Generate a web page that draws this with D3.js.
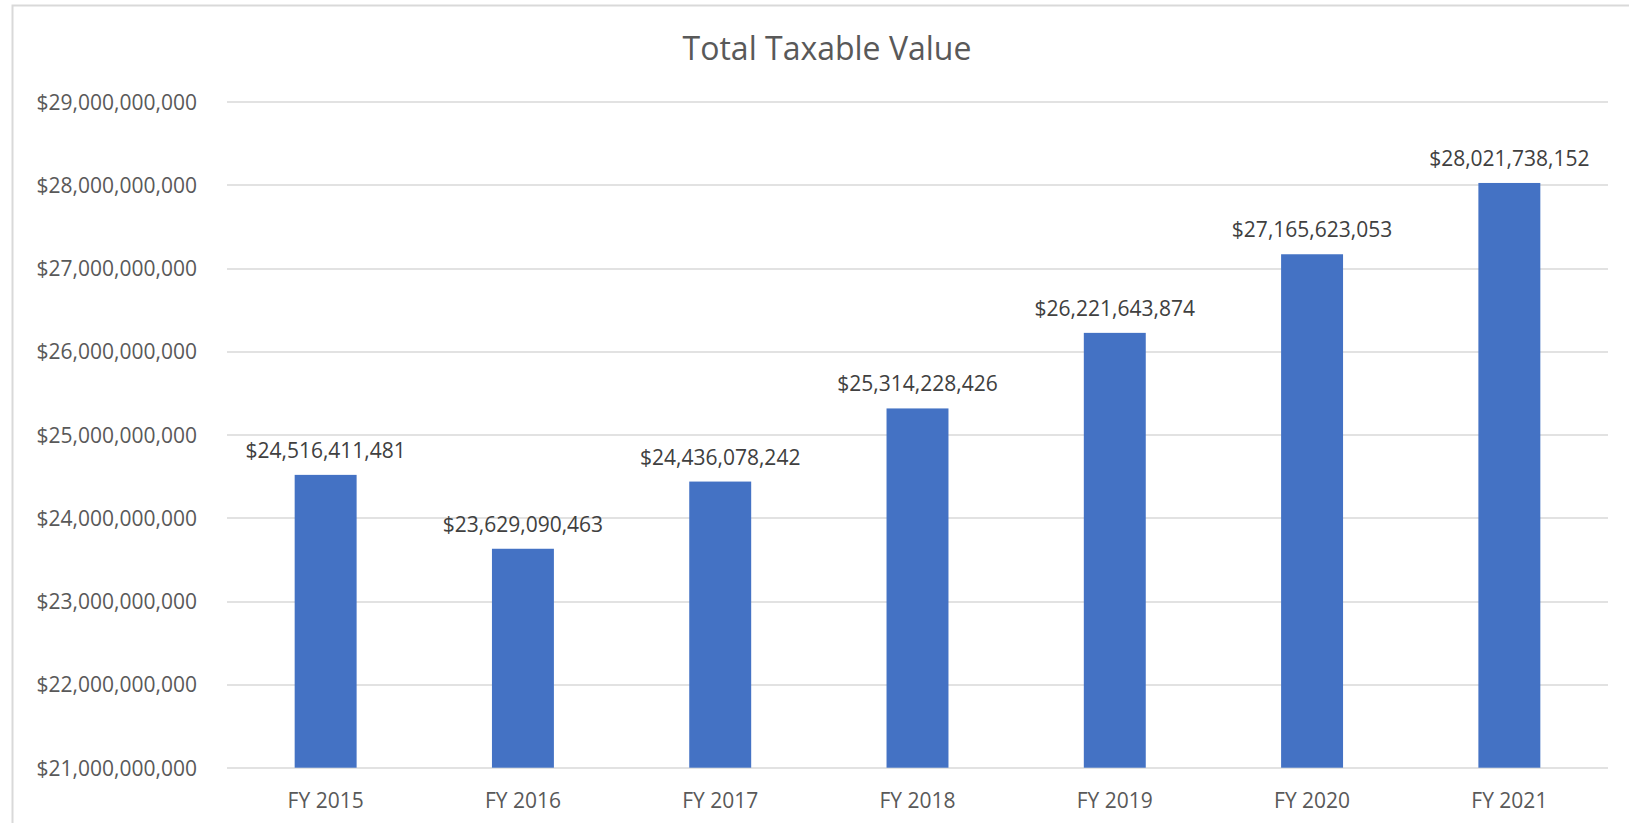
<!DOCTYPE html>
<html>
<head>
<meta charset="utf-8">
<script src="https://cdn.jsdelivr.net/npm/d3@7"></script>
<style>
  body { margin: 0; background: #fff; }
  svg text { font-family: "Open Sans", sans-serif; }
</style>
</head>
<body>
<div id="chart"></div>
<script>
var years = ["FY 2015", "FY 2016", "FY 2017", "FY 2018", "FY 2019", "FY 2020", "FY 2021"];
var values = [24516411481, 23629090463, 24436078242, 25314228426, 26221643874, 27165623053, 28021738152];
var yTicks = [21e9, 22e9, 23e9, 24e9, 25e9, 26e9, 27e9, 28e9, 29e9];

var W = 1629, H = 823;
var margin = {top: 101.5, right: 21, bottom: 55.3, left: 227};
var width = W - margin.left - margin.right,
    height = H - margin.top - margin.bottom;

var svg = d3.select("#chart").append("svg")
  .attr("width", W)
  .attr("height", H);

// outer chart border
svg.append("rect")
  .attr("x", 12.5).attr("y", 5.5)
  .attr("width", W + 20).attr("height", H + 20)
  .attr("fill", "none")
  .attr("stroke", "#d9d9d9")
  .attr("stroke-width", 2);

svg.append("text")
  .attr("x", 827).attr("y", 60)
  .attr("text-anchor", "middle")
  .style("font-size", "32px")
  .style("fill", "#595959")
  .text("Total Taxable Value");

var g = svg.append("g")
  .attr("transform", "translate(" + margin.left + "," + margin.top + ")");

var x = d3.scaleBand()
  .domain(years)
  .range([0, width])
  .paddingInner(0.686)
  .paddingOuter(0.343);

var y = d3.scaleLinear()
  .domain([21e9, 29e9])
  .range([height, 0]);

var fmt = function(v) { return "$" + d3.format(",")(v); };

// gridlines
g.selectAll(".grid")
  .data(yTicks)
  .enter().append("line")
  .attr("x1", 0).attr("x2", width)
  .attr("y1", function(d) { return Math.round(y(d)) + 0.5; })
  .attr("y2", function(d) { return Math.round(y(d)) + 0.5; })
  .attr("stroke", "#d9d9d9")
  .attr("stroke-width", 1.5);

var yAxis = g.append("g")
  .call(d3.axisLeft(y).tickValues(yTicks).tickFormat(fmt).tickSize(0).tickPadding(30));
yAxis.select(".domain").remove();
yAxis.selectAll("text")
  .attr("dy", "0.36em")
  .style("font-size", "21px")
  .style("font-family", "'Open Sans', sans-serif")
  .style("fill", "#595959");

var xAxis = g.append("g")
  .attr("transform", "translate(0," + height + ")")
  .call(d3.axisBottom(x).tickSize(0).tickPadding(25));
xAxis.select(".domain").remove();
xAxis.selectAll("text")
  .style("font-size", "21px")
  .style("font-family", "'Open Sans', sans-serif")
  .style("fill", "#595959");

g.selectAll(".bar")
  .data(values)
  .enter().append("rect")
  .attr("class", "bar")
  .attr("x", function(d, i) { return x(years[i]); })
  .attr("y", function(d) { return y(d); })
  .attr("width", x.bandwidth())
  .attr("height", function(d) { return height - y(d); })
  .attr("fill", "#4472c4");

g.selectAll(".lbl")
  .data(values)
  .enter().append("text")
  .attr("class", "lbl")
  .attr("x", function(d, i) { return x(years[i]) + x.bandwidth() / 2; })
  .attr("y", function(d) { return y(d) - 17; })
  .attr("text-anchor", "middle")
  .style("font-size", "21px")
  .style("fill", "#404040")
  .text(fmt);
</script>
</body>
</html>
